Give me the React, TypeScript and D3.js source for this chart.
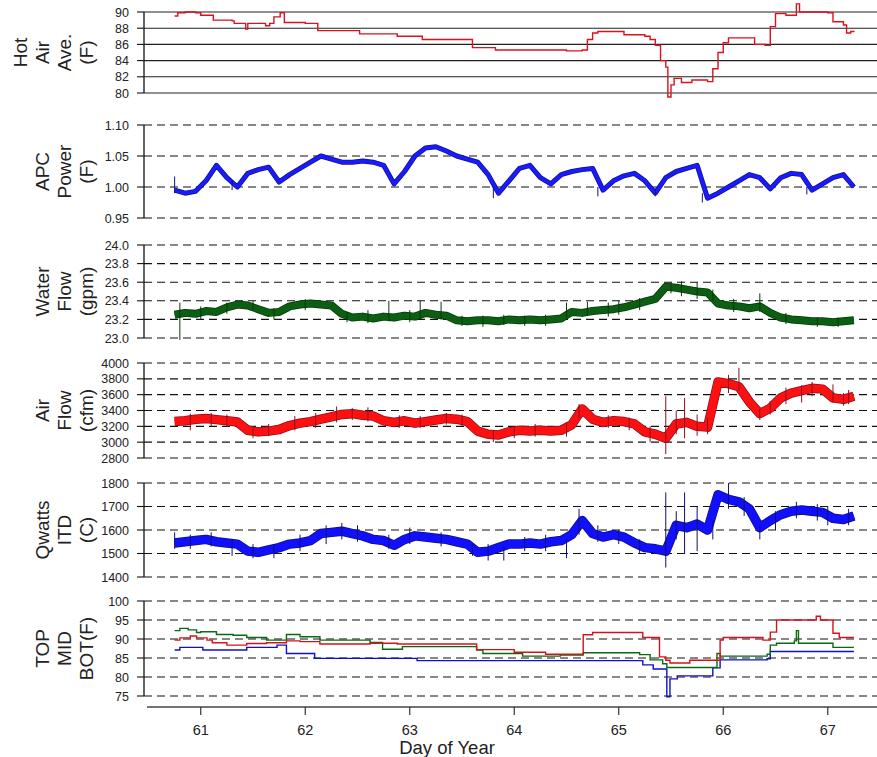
import React from "react";
import * as d3 from "d3";

// sample times (day of year) for the noisy traces
const sampleDays = [
  60.75, 60.85, 60.95, 61.05, 61.15, 61.25, 61.35, 61.45, 61.55, 61.65,
  61.75, 61.85, 61.95, 62.05, 62.15, 62.25, 62.35, 62.45, 62.55, 62.65,
  62.75, 62.85, 62.95, 63.05, 63.15, 63.25, 63.35, 63.45, 63.55, 63.65,
  63.75, 63.85, 63.95, 64.05, 64.15, 64.25, 64.35, 64.45, 64.55, 64.65,
  64.75, 64.85, 64.95, 65.05, 65.15, 65.25, 65.35, 65.45, 65.55, 65.65,
  65.75, 65.85, 65.95, 66.05, 66.15, 66.25, 66.35, 66.45, 66.55, 66.65,
  66.75, 66.85, 66.95, 67.05, 67.15, 67.25,
];

const apcPower = [
  0.995, 0.99, 0.993, 1.01, 1.035, 1.015, 1.0, 1.022, 1.028, 1.032,
  1.008, 1.02, 1.03, 1.04, 1.05, 1.045, 1.04, 1.04, 1.042, 1.04,
  1.035, 1.005, 1.025, 1.05, 1.063, 1.065, 1.058, 1.05, 1.045, 1.04,
  1.02, 0.99, 1.01, 1.03, 1.035, 1.015, 1.005, 1.02, 1.025, 1.028,
  1.03, 0.995, 1.01, 1.018, 1.022, 1.01, 0.99, 1.015, 1.025, 1.03,
  1.035, 0.982, 0.99, 1.0, 1.01, 1.02, 1.015, 0.997, 1.015, 1.022,
  1.02, 0.995, 1.005, 1.015, 1.02, 1.0,
];

const waterFlow = [
  23.25, 23.27, 23.26, 23.29, 23.28, 23.33, 23.36, 23.35, 23.31, 23.27,
  23.28, 23.34, 23.36, 23.37, 23.36, 23.35, 23.26, 23.22, 23.23, 23.21,
  23.23, 23.22, 23.24, 23.23, 23.27, 23.25, 23.24, 23.19, 23.18, 23.19,
  23.19, 23.18, 23.2, 23.19, 23.2, 23.19, 23.2, 23.21, 23.28, 23.27,
  23.29, 23.3, 23.31, 23.33, 23.36, 23.39, 23.42, 23.55, 23.54, 23.52,
  23.5, 23.49, 23.37, 23.35, 23.34, 23.32, 23.34, 23.27, 23.22, 23.2,
  23.19, 23.18, 23.18, 23.17, 23.18, 23.19,
];

const airFlow = [
  3260, 3270, 3290, 3300, 3285, 3270, 3255, 3150, 3130, 3140,
  3160, 3210, 3240, 3260, 3290, 3320, 3350, 3360, 3340, 3330,
  3270, 3250, 3270, 3240, 3260, 3280, 3300, 3290, 3260, 3140,
  3100, 3090, 3130, 3150, 3140, 3150, 3140, 3150, 3220, 3420,
  3290, 3250, 3270, 3260, 3230, 3130, 3100, 3050, 3230, 3250,
  3200, 3190, 3760, 3740, 3700, 3510, 3360, 3430, 3560, 3620,
  3650, 3680, 3670, 3560, 3540, 3580,
];

const qwattsItd = [
  1545, 1550, 1555, 1560, 1550, 1545, 1540, 1510, 1505, 1515,
  1525, 1540, 1545, 1555, 1585, 1590, 1595, 1585, 1575, 1560,
  1555, 1535, 1560, 1575, 1570, 1565, 1560, 1550, 1540, 1505,
  1510, 1525, 1540, 1540, 1545, 1540, 1550, 1555, 1580, 1640,
  1585, 1570, 1580, 1570, 1545, 1525, 1520, 1510, 1620, 1610,
  1625, 1600, 1750, 1730, 1720, 1690, 1610, 1640, 1665, 1680,
  1685, 1680, 1675, 1650, 1645, 1660,
];

// [day, low, high] outliers and noise hairs
const apcSpikes = [
  [60.75, 0.99, 1.017], [61.3, 0.995, 1.01], [63.8, 0.982, 1.0], [64.8, 0.985, 1.0],
  [65.35, 0.985, 0.998], [65.8, 0.975, 0.99], [66.8, 0.988, 1.0],
];
const waterSpikes = [
  [60.8, 22.98, 23.38], [61.0, 23.2, 23.34], [61.25, 23.26, 23.38], [61.5, 23.3, 23.4],
  [61.7, 23.2, 23.32], [62.0, 23.3, 23.42], [62.4, 23.17, 23.28], [62.6, 23.16, 23.3],
  [62.8, 23.18, 23.4], [63.0, 23.17, 23.3], [63.1, 23.2, 23.4], [63.3, 23.2, 23.39],
  [63.5, 23.13, 23.24], [63.7, 23.12, 23.24], [63.9, 23.14, 23.25], [64.1, 23.13, 23.24],
  [64.3, 23.13, 23.25], [64.5, 23.22, 23.38], [64.7, 23.24, 23.39], [64.9, 23.23, 23.38],
  [65.0, 23.25, 23.4], [65.2, 23.3, 23.43], [65.5, 23.48, 23.6], [65.6, 23.45, 23.61],
  [65.75, 23.42, 23.6], [65.9, 23.4, 23.52], [66.1, 23.28, 23.42], [66.35, 23.28, 23.48],
  [66.6, 23.15, 23.27], [66.9, 23.12, 23.22], [67.1, 23.12, 23.22],
];
const airSpikes = [
  [60.9, 3150, 3360], [61.1, 3200, 3370], [61.25, 3200, 3350], [61.5, 3050, 3200],
  [61.65, 3080, 3230], [61.9, 3150, 3330], [62.1, 3180, 3370], [62.3, 3250, 3450],
  [62.45, 3280, 3430], [62.6, 3260, 3440], [62.9, 3180, 3340], [63.1, 3180, 3330],
  [63.35, 3220, 3370], [63.5, 3200, 3350], [63.8, 3000, 3150], [64.0, 3050, 3200],
  [64.2, 3070, 3230], [64.5, 3070, 3250], [64.62, 3300, 3480], [64.9, 3180, 3340],
  [65.1, 3150, 3310], [65.3, 3000, 3200], [65.45, 2850, 3580], [65.55, 3100, 3400],
  [65.63, 3050, 3560], [65.75, 3080, 3350], [65.85, 3100, 3300], [66.05, 3620, 3850],
  [66.15, 3650, 3940], [66.35, 3280, 3420], [66.45, 3350, 3520], [66.6, 3480, 3690],
  [66.75, 3500, 3720], [66.85, 3580, 3760], [67.05, 3500, 3730], [67.15, 3460, 3620],
  [67.2, 3480, 3660],
];
const qwattsSpikes = [
  [60.75, 1520, 1590], [60.9, 1520, 1580], [61.1, 1530, 1590], [61.3, 1490, 1560],
  [61.5, 1480, 1540], [61.7, 1480, 1540], [61.95, 1510, 1580], [62.2, 1540, 1620],
  [62.35, 1560, 1630], [62.5, 1550, 1620], [62.8, 1520, 1580], [63.0, 1540, 1610],
  [63.3, 1530, 1590], [63.6, 1490, 1540], [63.75, 1470, 1540], [63.9, 1470, 1530],
  [64.1, 1510, 1570], [64.3, 1510, 1580], [64.5, 1480, 1560], [64.62, 1580, 1690],
  [64.8, 1550, 1620], [65.0, 1540, 1600], [65.2, 1500, 1560], [65.45, 1440, 1760],
  [65.55, 1560, 1680], [65.63, 1500, 1760], [65.75, 1510, 1700], [65.9, 1560, 1640],
  [66.05, 1690, 1800], [66.2, 1660, 1740], [66.35, 1560, 1620], [66.5, 1600, 1680],
  [66.7, 1650, 1720], [66.9, 1640, 1710], [67.0, 1620, 1700], [67.2, 1620, 1690],
];

const hotAirDays = [
  60.75, 60.78, 60.85, 60.95, 61.0, 61.1, 61.12, 61.3, 61.32, 61.42, 61.43, 61.45,
  61.6, 61.62, 61.66, 61.7, 61.76, 61.8, 62.0, 62.1, 62.12, 62.5, 62.52, 62.85,
  62.88, 63.1, 63.12, 63.55, 63.6, 63.8, 63.82, 64.3, 64.5, 64.65, 64.7, 64.75,
  64.8, 65.0, 65.05, 65.25, 65.3, 65.35, 65.4, 65.45, 65.47, 65.5, 65.53, 65.6,
  65.7, 65.85, 65.9, 65.95, 66.0, 66.05, 66.25, 66.3, 66.4, 66.45, 66.5, 66.6,
  66.68, 66.7, 66.73, 66.9, 67.0, 67.05, 67.15, 67.18, 67.22, 67.25,
];
const hotAirValues = [
  89.5, 89.9, 90.0, 89.9, 89.6, 89.6, 89.0, 88.9, 88.6, 88.6, 87.9, 88.6,
  88.6, 88.3, 88.6, 89.4, 89.9, 88.7, 88.6, 88.6, 87.7, 87.7, 87.3, 87.3,
  87.0, 87.0, 86.6, 86.6, 85.6, 85.6, 85.3, 85.3, 85.2, 85.3, 86.6, 87.4,
  87.6, 87.6, 87.2, 87.0, 86.6, 85.9, 84.0, 83.2, 79.5, 81.0, 81.8, 81.3,
  81.6, 81.4, 83.0, 85.0, 86.2, 86.8, 86.8, 86.0, 85.9, 88.2, 89.8, 89.6,
  89.6, 91.0, 90.0, 90.0, 89.9, 88.8, 88.4, 87.4, 87.6, 87.5,
];

const topDays = [
  60.75, 60.8, 60.9, 60.96, 61.06, 61.11, 61.25, 61.44, 61.63, 61.82, 61.95, 62.14,
  62.62, 62.88, 63.64, 64.0, 64.3, 64.66, 64.75, 65.23, 65.39, 65.45, 65.49, 65.68,
  65.97, 66.0, 66.38, 66.45, 66.51, 66.89, 66.93, 67.05, 67.11, 67.25,
];
const topValues = [
  89.7, 90.3, 90.8, 90.3, 89.7, 89.0, 88.4, 88.8, 89.0, 89.5, 89.3, 88.7,
  88.9, 88.7, 87.2, 86.5, 86.0, 91.1, 91.7, 90.4, 85.3, 84.4, 83.7, 84.4,
  89.7, 90.4, 89.7, 91.8, 95.0, 96.0, 95.0, 91.5, 90.4, 90.4,
];
const midDays = [
  60.75, 60.8, 60.88, 60.96, 61.0, 61.15, 61.31, 61.44, 61.63, 61.82, 61.95, 62.14,
  62.62, 62.74, 62.93, 63.64, 63.7, 64.08, 64.44, 64.66, 65.2, 65.3, 65.42, 65.46,
  65.94, 65.97, 66.42, 66.45, 66.51, 66.68, 66.7, 66.72, 67.02, 67.05, 67.25,
];
const midValues = [
  92.2, 92.8, 92.4, 91.7, 91.9, 91.2, 91.0, 90.4, 89.7, 91.2, 90.6, 89.7,
  89.1, 87.3, 88.0, 87.1, 86.2, 85.5, 85.8, 86.4, 85.9, 84.5, 83.5, 82.5,
  86.2, 85.5, 86.0, 88.4, 88.9, 89.5, 92.2, 88.9, 88.9, 87.8, 87.8,
];
const botDays = [
  60.75, 60.8, 61.02, 61.44, 61.73, 61.82, 62.09, 63.07, 64.44, 65.23, 65.33, 65.46,
  65.49, 65.56, 65.9, 65.97, 66.42, 66.45, 67.25,
];
const botValues = [
  87.1, 87.8, 87.1, 87.8, 88.4, 86.2, 84.9, 84.3, 84.3, 83.2, 82.1, 74.8,
  79.5, 80.3, 82.4, 84.5, 84.8, 86.7, 86.7,
];

const hotTicks = [80, 82, 84, 86, 88, 90];
const apcTicks = [0.95, 1.0, 1.05, 1.1];
const waterTicks = [23.0, 23.2, 23.4, 23.6, 23.8, 24.0];
const airTicks = [2800, 3000, 3200, 3400, 3600, 3800, 4000];
const qwattsTicks = [1400, 1500, 1600, 1700, 1800];
const tempTicks = [75, 80, 85, 90, 95, 100];
const dayTicks = [61, 62, 63, 64, 65, 66, 67];

const W = 877;
const H = 757;
const FONT = "'Liberation Sans', Arial, sans-serif";
const AXIS_X = 144;

const x = d3.scaleLinear().domain([60.5, 67.5]).range([148.5, 880]);

type Panel = {
  key: string;
  domain: [number, number];
  range: [number, number];
  ticks: number[];
  fmt: (v: number) => string;
  labels: string[];
  solid?: boolean;
};

const panels: Panel[] = [
  { key: "hot", domain: [80, 90], range: [93, 12], ticks: hotTicks, fmt: (v) => String(v), labels: ["Hot", "Air", "Ave.", "(F)"], solid: true },
  { key: "apc", domain: [0.95, 1.1], range: [218, 125], ticks: apcTicks, fmt: (v) => v.toFixed(2), labels: ["APC", "Power", "(F)"] },
  { key: "water", domain: [23, 24], range: [338, 245], ticks: waterTicks, fmt: (v) => v.toFixed(1), labels: ["Water", "Flow", "(gpm)"] },
  { key: "air", domain: [2800, 4000], range: [458, 363], ticks: airTicks, fmt: (v) => String(v), labels: ["Air", "Flow", "(cfm)"] },
  { key: "qw", domain: [1400, 1800], range: [577, 483], ticks: qwattsTicks, fmt: (v) => String(v), labels: ["Qwatts", "ITD", "(C)"] },
  { key: "tmb", domain: [75, 100], range: [696, 601], ticks: tempTicks, fmt: (v) => String(v), labels: ["TOP", "MID", "BOT(F)"] },
];

const scales = panels.map((p) => d3.scaleLinear().domain(p.domain).range(p.range));

function bandLine(values: number[], y: d3.ScaleLinear<number, number>) {
  return d3.line<number>().x((_, i) => x(sampleDays[i])).y((d) => y(d))(values) || "";
}

function stepLine(days: number[], values: number[], y: d3.ScaleLinear<number, number>) {
  return (
    d3
      .line<number>()
      .x((_, i) => x(days[i]))
      .y((d) => y(d))
      .curve(d3.curveStepAfter)(values) || ""
  );
}

function Noisy({ values, spikes, y, color, edge, width }: any) {
  const d = bandLine(values, y);
  return (
    <g>
      <path d={d} fill="none" stroke={edge} strokeWidth={width + 1.5} strokeLinejoin="round" />
      <path d={d} fill="none" stroke={color} strokeWidth={width} strokeLinejoin="round" />
      {spikes.map((s: number[], i: number) => (
        <line key={i} x1={x(s[0])} x2={x(s[0])} y1={y(s[1])} y2={y(s[2])} stroke={edge} strokeWidth={1} />
      ))}
    </g>
  );
}

export default function App() {
  const lineX = [20, 42, 64, 86];
  return (
    <svg width={W} height={H} style={{ position: "absolute", left: 0, top: 0, background: "#fff" }} fontFamily={FONT}>
      {panels.map((p, pi) => {
        const y = scales[pi];
        const mid = (p.range[0] + p.range[1]) / 2;
        const offs = lineX.slice(4 - p.labels.length);
        return (
          <g key={p.key}>
            {p.ticks.map((t) => (
              <g key={t}>
                <line
                  x1={AXIS_X}
                  x2={W}
                  y1={y(t)}
                  y2={y(t)}
                  stroke={p.solid ? "#222" : "#111"}
                  strokeWidth={1.1}
                  strokeDasharray={p.solid ? undefined : "8,5"}
                />
                <line x1={AXIS_X - 7} x2={AXIS_X} y1={y(t)} y2={y(t)} stroke="#111" strokeWidth={1.1} />
                <text x={129} y={y(t)} dy="0.36em" textAnchor="end" fontSize={12.5} fill="#222">
                  {p.fmt(t)}
                </text>
              </g>
            ))}
            <line x1={AXIS_X} x2={AXIS_X} y1={p.range[0]} y2={p.range[1]} stroke="#111" strokeWidth={1.3} />
            {p.labels.map((l, li) => (
              <text
                key={l}
                transform={`translate(${offs[li]},${mid}) rotate(-90)`}
                textAnchor="middle"
                dominantBaseline="central"
                fontSize={19}
                fill="#222"
              >
                {l}
              </text>
            ))}
          </g>
        );
      })}

      {/* Hot air average */}
      <path d={stepLine(hotAirDays, hotAirValues, scales[0])} fill="none" stroke="#d8121e" strokeWidth={1.4} />

      <Noisy values={apcPower} spikes={apcSpikes} y={scales[1]} color="#1a1aff" edge="#10108a" width={3.5} />
      <Noisy values={waterFlow} spikes={waterSpikes} y={scales[2]} color="#0c5e12" edge="#063a08" width={6.5} />
      <Noisy values={airFlow} spikes={airSpikes} y={scales[3]} color="#ff1010" edge="#8a1020" width={8} />
      <Noisy values={qwattsItd} spikes={qwattsSpikes} y={scales[4]} color="#1010ff" edge="#101070" width={8} />

      {/* TOP / MID / BOT temperatures */}
      <path d={stepLine(botDays, botValues, scales[5])} fill="none" stroke="#1010cc" strokeWidth={1.4} />
      <path d={stepLine(midDays, midValues, scales[5])} fill="none" stroke="#0a6a10" strokeWidth={1.4} />
      <path d={stepLine(topDays, topValues, scales[5])} fill="none" stroke="#d8101c" strokeWidth={1.4} />

      {/* x axis */}
      <line x1={147} x2={W} y1={707} y2={707} stroke="#444" strokeWidth={1.6} />
      {dayTicks.map((t) => (
        <g key={t}>
          <line x1={x(t)} x2={x(t)} y1={707} y2={715} stroke="#333" strokeWidth={1.2} />
          <text x={x(t)} y={735} textAnchor="middle" fontSize={14.5} fill="#222">
            {t}
          </text>
        </g>
      ))}
      <text x={447} y={754} textAnchor="middle" fontSize={18.5} fill="#222">
        Day of Year
      </text>
    </svg>
  );
}
